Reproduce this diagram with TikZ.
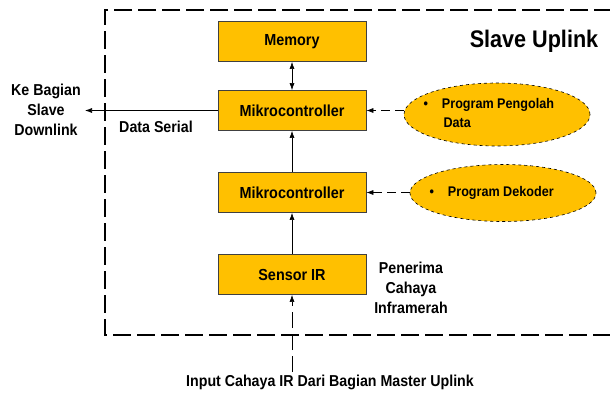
\documentclass[tikz,border=0pt]{standalone}
\usepackage{fontspec}
\setmainfont{Liberation Sans}[FakeStretch=0.9]
\usetikzlibrary{shapes.geometric,arrows.meta}
\definecolor{boxfill}{HTML}{FFC000}
\definecolor{boxline}{HTML}{404040}
\begin{document}
\begin{tikzpicture}[x=1pt,y=-1pt,
  blk/.style={draw=boxline,line width=0.8pt,fill=boxfill,minimum width=148pt,minimum height=40pt,inner sep=0pt,font=\bfseries\fontsize{16}{19}\selectfont},
  prog/.style={draw=black,dashed,line width=0.6pt,fill=boxfill,ellipse,inner sep=0pt},
  ptxt/.style={font=\bfseries\fontsize{14}{19}\selectfont,align=left,anchor=west},
  lbl/.style={font=\bfseries\fontsize{15.8}{20}\selectfont,align=center},
  arr/.style={-{Latex[length=7pt,width=5pt]},line width=0.6pt},
  darr/.style={{Latex[length=7pt,width=5pt]}-{Latex[length=7pt,width=5pt]},line width=0.6pt},
  frame/.style={line width=1.4pt,dash pattern=on 18pt off 6pt}]
\useasboundingbox (0,0) rectangle (610,394);
% frame
\draw[frame] (612,10) -- (105,10) -- (105,335) -- (612,335);
\node[font=\bfseries\fontsize{24}{28}\selectfont] (title) at (534,41) {Slave Uplink};
% blocks
\node[blk] (mem) at (292,41.5) {Memory};
\node[blk] (mk1) at (292,110.5) {Mikrocontroller};
\node[blk] (mk2) at (292,192.5) {Mikrocontroller};
\node[blk] (ir) at (292,274.5) {Sensor IR};
% ellipses
\node[prog,minimum width=186pt,minimum height=63pt] (p1) at (497,114.5) {};
\node[ptxt] (p1t) at (420,113) {\textbullet\hspace{14pt}Program Pengolah\\\hspace{20pt}Data};
\node[prog,minimum width=186pt,minimum height=57pt] (p2) at (503,193) {};
\node[ptxt] (p2t) at (426,193) {\textbullet\hspace{14pt}Program Dekoder};
% connectors
\draw[darr] (mem) -- (mk1);
\draw[arr] (mk2) -- (mk1);
\draw[arr] (ir) -- (mk2);
\draw[arr,dash pattern=on 9pt off 5pt] (p1.west |- mk1.east) -- (mk1.east);
\draw[arr,dash pattern=on 9pt off 5pt] (p2.west |- mk2.east) -- (mk2.east);
\coordinate (out) at (85,110.5);
\draw[arr] (mk1.west) -- (out);
\coordinate (inp) at (292,372);
\draw[arr,dash pattern=on 16pt off 6pt] (inp) -- (ir.south);
% labels
\node[lbl] (ke) at (46,110) {Ke Bagian\\Slave\\Downlink};
\node[lbl] (ds) at (156,127) {Data Serial};
\node[lbl] (pc) at (411,288) {Penerima\\Cahaya\\Inframerah};
\node[lbl] (inl) at (330,382) {Input Cahaya IR Dari Bagian Master Uplink};
\end{tikzpicture}
\end{document}
